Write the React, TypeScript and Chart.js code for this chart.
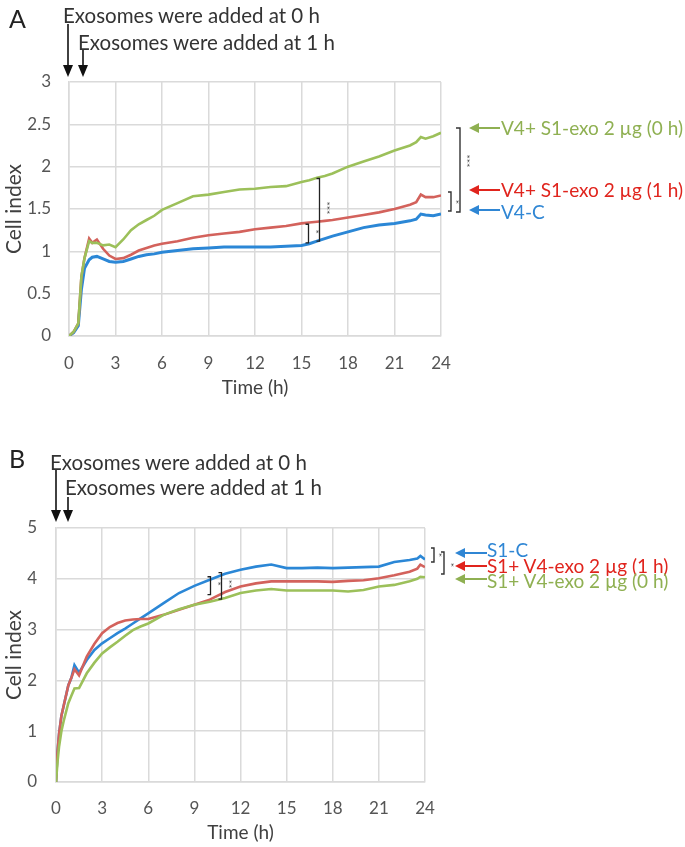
import React, { useEffect, useRef } from 'react';
import { Chart, registerables } from 'chart.js';

Chart.register(...registerables);

const FONT = 'Lato, "Open Sans", sans-serif';

// ---------- Panel A data ----------
const timeA = [0, 0.3, 0.6, 0.8, 1.0, 1.3, 1.5, 1.8, 2.2, 2.6, 3, 3.5, 4, 4.5, 5, 5.5, 6, 7, 8, 9, 10, 11, 12, 13, 14, 15, 15.5, 16, 16.5, 17, 18, 19, 20, 21, 22, 22.4, 22.7, 23, 23.5, 24];
const v4ControlA = [0, 0.04, 0.12, 0.55, 0.8, 0.9, 0.93, 0.94, 0.91, 0.88, 0.87, 0.88, 0.91, 0.94, 0.96, 0.97, 0.99, 1.01, 1.03, 1.04, 1.05, 1.05, 1.05, 1.05, 1.06, 1.07, 1.09, 1.12, 1.15, 1.18, 1.23, 1.28, 1.31, 1.33, 1.36, 1.38, 1.44, 1.43, 1.42, 1.44];
const v4Exo1hA = [0, 0.05, 0.15, 0.7, 0.92, 1.15, 1.1, 1.14, 1.03, 0.95, 0.91, 0.92, 0.96, 1.01, 1.04, 1.07, 1.09, 1.12, 1.16, 1.19, 1.21, 1.23, 1.26, 1.28, 1.3, 1.33, 1.34, 1.35, 1.36, 1.37, 1.4, 1.43, 1.46, 1.5, 1.55, 1.58, 1.67, 1.64, 1.64, 1.66];
const v4Exo0hA = [0, 0.05, 0.15, 0.7, 0.92, 1.12, 1.1, 1.1, 1.07, 1.08, 1.05, 1.14, 1.25, 1.32, 1.37, 1.42, 1.49, 1.57, 1.65, 1.67, 1.7, 1.73, 1.74, 1.76, 1.77, 1.82, 1.84, 1.87, 1.89, 1.92, 2.0, 2.06, 2.12, 2.19, 2.25, 2.29, 2.35, 2.33, 2.36, 2.4];
const yTicksA = [0, 0.5, 1, 1.5, 2, 2.5, 3];

// ---------- Panel B data ----------
const timeB = [0, 0.1, 0.2, 0.35, 0.5, 0.8, 1.0, 1.2, 1.5, 2, 2.5, 3, 3.5, 4, 4.5, 5, 5.5, 6, 7, 8, 9, 10, 11, 12, 13, 14, 15, 16, 17, 18, 19, 20, 21, 22, 23, 23.5, 23.7, 24];
const s1ControlB = [0, 0.6, 0.95, 1.3, 1.5, 1.9, 2.05, 2.3, 2.15, 2.4, 2.6, 2.73, 2.83, 2.93, 3.02, 3.12, 3.22, 3.32, 3.52, 3.72, 3.86, 3.98, 4.1, 4.18, 4.24, 4.28, 4.21, 4.21, 4.22, 4.21, 4.22, 4.23, 4.24, 4.33, 4.37, 4.4, 4.45, 4.38];
const s1Exo1hB = [0, 0.6, 0.95, 1.3, 1.5, 1.9, 2.05, 2.22, 2.1, 2.47, 2.72, 2.93, 3.05, 3.13, 3.18, 3.2, 3.21, 3.21, 3.29, 3.39, 3.49, 3.59, 3.74, 3.85, 3.91, 3.95, 3.95, 3.95, 3.95, 3.94, 3.96, 3.97, 4.01, 4.07, 4.14, 4.2, 4.28, 4.23];
const s1Exo0hB = [0, 0.4, 0.7, 1.0, 1.2, 1.55, 1.7, 1.84, 1.85, 2.14, 2.35, 2.53, 2.65, 2.76, 2.88, 2.99, 3.06, 3.12, 3.29, 3.4, 3.49, 3.55, 3.62, 3.72, 3.77, 3.8, 3.77, 3.77, 3.77, 3.77, 3.75, 3.78, 3.85, 3.88, 3.95, 4.0, 4.04, 4.03];
const yTicksB = [0, 1, 2, 3, 4, 5];

const xTicks = [0, 3, 6, 9, 12, 15, 18, 21, 24];

// significance brackets inside plots (data coordinates)
const sigA = [
  { x: 16.1, y1: 1.86, y2: 1.12, mark: '***' },
  { x: 15.4, y1: 1.32, y2: 1.1, mark: '*' },
];
const sigB = [
  { x: 10.0, y1: 4.04, y2: 3.69, mark: '*' },
  { x: 10.7, y1: 4.12, y2: 3.6, mark: '**' },
];

const BLUE = '#2b87d6';
const RED = '#d3625c';
const GREEN = '#9cc05a';
const BLUE_T = '#2f86d4';
const RED_T = '#e0241d';
const GREEN_T = '#8fb052';
const GRID = '#dadada';
const TICK = '#555555';

function pts(t: number[], v: number[]) {
  return t.map((x, i) => ({ x, y: v[i] }));
}

function sigPlugin(list: { x: number; y1: number; y2: number; mark: string }[]) {
  return {
    id: 'sig',
    afterDatasetsDraw(chart: any) {
      const { ctx, scales } = chart;
      const xs = scales.x;
      const ys = scales.y;
      ctx.save();
      ctx.strokeStyle = '#222';
      ctx.lineWidth = 1.3;
      list.forEach((b) => {
        const px = Math.round(xs.getPixelForValue(b.x)) + 0.5;
        const p1 = ys.getPixelForValue(b.y1);
        const p2 = ys.getPixelForValue(b.y2);
        ctx.beginPath();
        ctx.moveTo(px - 3, p1);
        ctx.lineTo(px, p1);
        ctx.lineTo(px, p2);
        ctx.lineTo(px - 3, p2);
        ctx.stroke();
        ctx.save();
        ctx.translate(px + 7, (p1 + p2) / 2 - 2);
        ctx.rotate(Math.PI / 2);
        ctx.font = '10px ' + FONT;
        ctx.textAlign = 'center';
        ctx.textBaseline = 'middle';
        ctx.fillStyle = '#333';
        ctx.fillText(b.mark, 0, 0);
        ctx.restore();
      });
      ctx.restore();
    },
  };
}

function makeConfig(opts: {
  time: number[];
  series: { data: number[]; color: string; width: number; label: string }[];
  yMax: number;
  yTicks: number[];
  padding: { left: number; top: number; right: number; bottom: number };
  yWidth: number;
  xHeight: number;
  yTickPad: number;
  xTickPad: number;
  xTitlePad: number;
  sig: any[];
}): any {
  return {
    type: 'line',
    data: {
      datasets: opts.series.map((s) => ({
        label: s.label,
        data: pts(opts.time, s.data),
        borderColor: s.color,
        backgroundColor: s.color,
        borderWidth: s.width,
        pointRadius: 0,
        tension: 0,
        fill: false,
      })),
    },
    options: {
      responsive: false,
      animation: false,
      events: [],
      layout: { padding: opts.padding },
      plugins: { legend: { display: false }, tooltip: { enabled: false } },
      scales: {
        x: {
          type: 'linear',
          min: 0,
          max: 24,
          afterBuildTicks: (s: any) => {
            s.ticks = xTicks.map((v) => ({ value: v }));
          },
          afterFit: (s: any) => {
            s.height = opts.xHeight;
          },
          grid: { color: GRID, lineWidth: 1.5, drawTicks: false },
          border: { color: GRID, width: 1.5 },
          ticks: {
            color: TICK,
            padding: opts.xTickPad,
            font: { family: FONT, size: 17 },
            maxRotation: 0,
            autoSkip: false,
            callback: (v: number) => String(v),
          },
          title: {
            display: true,
            text: 'Time (h)',
            color: '#404040',
            font: { family: FONT, size: 19 },
            padding: { top: 2, bottom: opts.xTitlePad },
          },
        },
        y: {
          type: 'linear',
          min: 0,
          max: opts.yMax,
          afterBuildTicks: (s: any) => {
            s.ticks = opts.yTicks.map((v) => ({ value: v }));
          },
          afterFit: (s: any) => {
            s.width = opts.yWidth;
          },
          grid: { color: GRID, lineWidth: 1.5, drawTicks: false },
          border: { color: GRID, width: 1.5 },
          ticks: {
            color: TICK,
            padding: opts.yTickPad,
            font: { family: FONT, size: 17 },
            callback: (v: number) => String(v),
          },
          title: {
            display: true,
            text: 'Cell index',
            color: '#404040',
            font: { family: FONT, size: 21 },
            padding: { top: 2, bottom: 2 },
          },
        },
      },
    },
    plugins: [sigPlugin(opts.sig)],
  };
}

function Label(props: { x: number; y: number; size: number; color?: string; children: React.ReactNode }) {
  return (
    <div
      style={{
        position: 'absolute',
        left: props.x,
        top: props.y - props.size * 0.6,
        fontSize: props.size,
        lineHeight: `${props.size * 1.2}px`,
        color: props.color || '#333',
        whiteSpace: 'nowrap',
        fontFamily: FONT,
      }}
    >
      {props.children}
    </div>
  );
}

function DownArrow({ x, y1, y2 }: { x: number; y1: number; y2: number }) {
  return (
    <g>
      <line x1={x} y1={y1} x2={x} y2={y2 - 10} stroke="#111" strokeWidth={1.6} />
      <polygon points={`${x - 5},${y2 - 12} ${x + 5},${y2 - 12} ${x},${y2}`} fill="#111" />
    </g>
  );
}

function LeftArrow({ tip, end, y, color }: { tip: number; end: number; y: number; color: string }) {
  return (
    <g>
      <line x1={tip + 8} y1={y} x2={end} y2={y} stroke={color} strokeWidth={2} />
      <polygon points={`${tip},${y} ${tip + 10},${y - 5} ${tip + 10},${y + 5}`} fill={color} />
    </g>
  );
}

function Bracket({ x, y1, y2, w = 4 }: { x: number; y1: number; y2: number; w?: number }) {
  return (
    <path d={`M${x - w},${y1} L${x},${y1} L${x},${y2} L${x - w},${y2}`} fill="none" stroke="#333" strokeWidth={1.4} />
  );
}

function Stars({ x, y, text }: { x: number; y: number; text: string }) {
  return (
    <text
      x={x}
      y={y}
      fontSize={10}
      fill="#333"
      textAnchor="middle"
      dominantBaseline="middle"
      fontFamily={FONT}
      transform={`rotate(90 ${x} ${y})`}
    >
      {text}
    </text>
  );
}

export default function App() {
  const refA = useRef<HTMLCanvasElement>(null);
  const refB = useRef<HTMLCanvasElement>(null);

  useEffect(() => {
    const chartA = new Chart(
      refA.current as HTMLCanvasElement,
      makeConfig({
        time: timeA,
        series: [
          { label: 'V4+ S1-exo 2 µg (0 h)', data: v4Exo0hA, color: GREEN, width: 2.6 },
          { label: 'V4+ S1-exo 2 µg (1 h)', data: v4Exo1hA, color: RED, width: 2.6 },
          { label: 'V4-C', data: v4ControlA, color: BLUE, width: 3 },
        ],
        yMax: 3,
        yTicks: yTicksA,
        padding: { left: 0, top: 82, right: 244, bottom: 0 },
        yWidth: 69,
        xHeight: 64,
        yTickPad: 18,
        xTickPad: 17,
        xTitlePad: 1,
        sig: sigA,
      })
    );
    const chartB = new Chart(
      refB.current as HTMLCanvasElement,
      makeConfig({
        time: timeB,
        series: [
          { label: 'S1+ V4-exo 2 µg (0 h)', data: s1Exo0hB, color: GREEN, width: 2.6 },
          { label: 'S1+ V4-exo 2 µg (1 h)', data: s1Exo1hB, color: RED, width: 2.6 },
          { label: 'S1-C', data: s1ControlB, color: BLUE, width: 2.6 },
        ],
        yMax: 5,
        yTicks: yTicksB,
        padding: { left: 0, top: 88, right: 260, bottom: 0 },
        yWidth: 56,
        xHeight: 65,
        yTickPad: 19,
        xTickPad: 16,
        xTitlePad: 3,
        sig: sigB,
      })
    );
    return () => {
      chartA.destroy();
      chartB.destroy();
    };
  }, []);

  return (
    <div
      style={{
        position: 'absolute',
        left: 0,
        top: 0,
        width: 685,
        height: 847,
        background: '#fff',
        overflow: 'hidden',
        fontFamily: FONT,
      }}
    >
      <canvas ref={refA} width={685} height={400} style={{ position: 'absolute', left: 0, top: 0, width: 685, height: 400 }} />
      <canvas ref={refB} width={685} height={407} style={{ position: 'absolute', left: 0, top: 440, width: 685, height: 407 }} />
      <svg width={685} height={847} style={{ position: 'absolute', left: 0, top: 0, pointerEvents: 'none' }}>
        {/* Panel A top arrows */}
        <DownArrow x={68} y1={24} y2={77} />
        <DownArrow x={83} y1={50} y2={77} />
        {/* Panel A right arrows */}
        <LeftArrow tip={469} end={500} y={128} color={GREEN_T} />
        <LeftArrow tip={469} end={500} y={190} color={RED_T} />
        <LeftArrow tip={469} end={500} y={210} color={BLUE_T} />
        <Bracket x={460} y1={128} y2={212} />
        <Stars x={466} y={161} text="***" />
        <Bracket x={451} y1={192} y2={211} w={3} />
        <Stars x={455} y={202} text="*" />
        {/* Panel B top arrows */}
        <DownArrow x={56} y1={470} y2={522} />
        <DownArrow x={68} y1={497} y2={522} />
        {/* Panel B right arrows */}
        <LeftArrow tip={455} end={487} y={553} color={BLUE_T} />
        <LeftArrow tip={455} end={487} y={566} color={RED_T} />
        <LeftArrow tip={455} end={487} y={579} color={GREEN_T} />
        <Bracket x={434} y1={548} y2={562} w={3} />
        <Stars x={438} y={555} text="*" />
        <Bracket x={444} y1={552} y2={574} w={3} />
        <Stars x={450} y={565} text="*" />
      </svg>
      {/* Panel A texts */}
      <Label x={9} y={18} size={25} color="#222">A</Label>
      <Label x={63} y={15} size={20.5}>Exosomes were added at 0 h</Label>
      <Label x={78} y={42} size={20.5}>Exosomes were added at 1 h</Label>
      <Label x={501} y={128} size={19} color={GREEN_T}>V4+ S1-exo 2 µg (0 h)</Label>
      <Label x={501} y={190} size={19} color={RED_T}>V4+ S1-exo 2 µg (1 h)</Label>
      <Label x={501} y={212} size={19} color={BLUE_T}>V4-C</Label>
      {/* Panel B texts */}
      <Label x={9} y={458} size={25} color="#222">B</Label>
      <Label x={50} y={462} size={20.5}>Exosomes were added at 0 h</Label>
      <Label x={65} y={487} size={20.5}>Exosomes were added at 1 h</Label>
      <Label x={487} y={550} size={19} color={BLUE_T}>S1-C</Label>
      <Label x={487} y={566} size={19} color={RED_T}>S1+ V4-exo 2 µg (1 h)</Label>
      <Label x={487} y={581} size={19} color={GREEN_T}>S1+ V4-exo 2 µg (0 h)</Label>
    </div>
  );
}
